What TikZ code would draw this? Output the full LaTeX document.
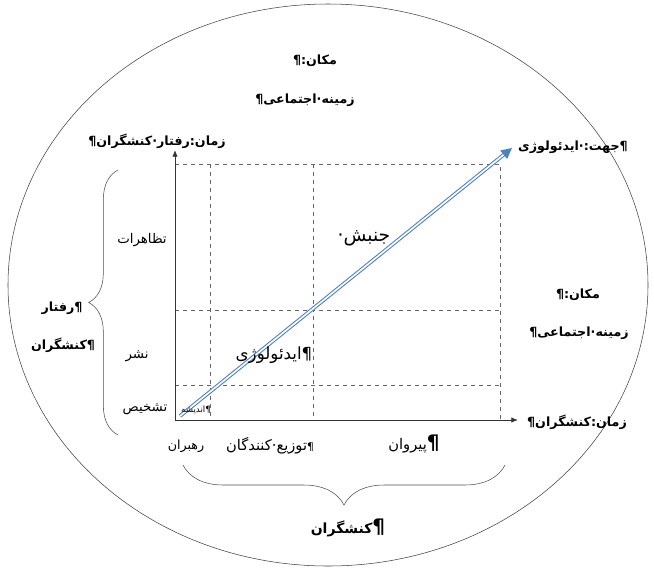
\documentclass[tikz,border=0pt]{standalone}
\usepackage{fontspec}
\usepackage{xcolor}
\usepackage{tikz}
\usetikzlibrary{arrows.meta,decorations.pathreplacing}
\newfontfamily\arabicfont[Script=Arabic]{DejaVu Sans}
% each piece in its own box, pieces set from left to right as printed
\newcommand{\fa}[1]{{\arabicfont #1}}
\newcommand{\pc}[1]{\mbox{#1}}
\definecolor{dirblue}{HTML}{4F81BD}

\begin{document}
\begin{tikzpicture}[x=0.75pt,y=-0.75pt,
  lbl/.style={font=\fontsize{9.5}{11}\selectfont\bfseries,inner sep=1pt},
  txt/.style={font=\fontsize{10}{11}\selectfont,inner sep=1pt},
  axis/.style={-{Latex[length=5pt,width=4pt]},semithick,black!80},
  gridln/.style={dashed,black!60,thin},
  brc/.style={decorate,black!70,thin},
  dirarrow/.style={draw=dirblue,line width=0.8pt,double=white,double distance=1.2pt,
    -{Triangle[length=8pt,width=8pt]}}]
  \useasboundingbox (0,0) rectangle (654,569);

  % outer ellipse
  \draw[black!75] (328,285) ellipse [x radius=240pt, y radius=210.75pt];

  % axes and grid
  \coordinate (O) at (175,420);
  \coordinate (xend) at (518,420);
  \coordinate (yend) at (175,150);
  \draw[gridln] (175,164) -- (500,164) -- (500,420);
  \foreach \gx in {210,313} \draw[gridln] (\gx,164) -- (\gx,420);
  \foreach \gy in {310,385} \draw[gridln] (175,\gy) -- (500,\gy);
  \draw[axis] (O) -- (yend);
  \draw[axis] (O) -- (xend);

  % direction arrow
  \coordinate (dstart) at (180,416);
  \coordinate (dtip) at (512,148);
  \draw[dirarrow] (dstart) -- (dtip);

  % braces
  \draw[brc,decoration={brace,amplitude=22pt}] (118,435) -- (118,170);
  \draw[brc,decoration={brace,amplitude=30pt}] (505,465) -- (183,465);

  % place labels
  \node[lbl] (topplace) at (315,61) {\fa{\pc{¶}\pc{:}\pc{مکان}}};
  \node[lbl] (topctx) at (305,100) {\fa{\pc{¶}\pc{اجتماعی}\pc{·}\pc{زمینه}}};
  \node[lbl] (rplace) at (578,295) {\fa{\pc{¶}\pc{:}\pc{مکان}}};
  \node[lbl] (rctx) at (579,333) {\fa{\pc{¶}\pc{اجتماعی}\pc{·}\pc{زمینه}}};

  % axis labels
  \node[lbl] (ytitle) at (157,141)
    {\fa{\pc{¶}\pc{کنشگران}\pc{·}\pc{رفتار}\pc{:}\pc{زمان}}};
  \node[lbl] (xtitle) at (577,422) {\fa{\pc{¶}\pc{کنشگران}\pc{:}\pc{زمان}}};
  \node[lbl] (dirtitle) at (573,147)
    {\fa{\pc{ایدئولوژی}\pc{·}\pc{:}\pc{جهت}\pc{¶}}};

  % behaviour stages
  \node[txt] (demo) at (142,240) {\fa{تظاهرات}};
  \node[txt] (spread) at (137,356) {\fa{نشر}};
  \node[txt] (diag) at (145,409) {\fa{تشخیص}};
  \node[txt,font=\fontsize{6.5}{8}\selectfont] (idea) at (196,410) {\fa{\pc{اندیشه}\pc{¶}}};
  \node[lbl] (behav) at (62,308) {\fa{\pc{رفتار}\pc{¶}}};
  \node[lbl] (actorsl) at (63,345) {\fa{\pc{کنشگران}\pc{¶}}};

  % inside the plot
  \node[txt,font=\fontsize{14}{16}\selectfont] (move) at (364,238) {\fa{\pc{·}\pc{جنبش}}};
  \node[txt,font=\fontsize{12.5}{14}\selectfont] (ideol) at (274,355)
    {\fa{\pc{ایدئولوژی}\pc{¶}}};

  % actors along x
  \node[txt,font=\fontsize{9.5}{11}\selectfont] (leaders) at (186,446) {\fa{رهبران}};
  \node[txt,font=\fontsize{11}{12}\selectfont] (distrib) at (270,446)
    {\fa{\pc{کنندگان}\pc{·}\pc{توزیع}\pc{\fontsize{8}{9}\selectfont¶}}};
  \node[txt,font=\fontsize{11}{12}\selectfont] (follow) at (414,444)
    {\fa{\pc{پیروان}\pc{\fontsize{15}{16}\selectfont\bfseries ¶}}};
  \node[lbl,font=\fontsize{10.5}{12}\selectfont\bfseries] (actorsb) at (348,528)
    {\fa{\pc{کنشگران}\pc{\fontsize{15}{16}\selectfont ¶}}};

\end{tikzpicture}
\end{document}
